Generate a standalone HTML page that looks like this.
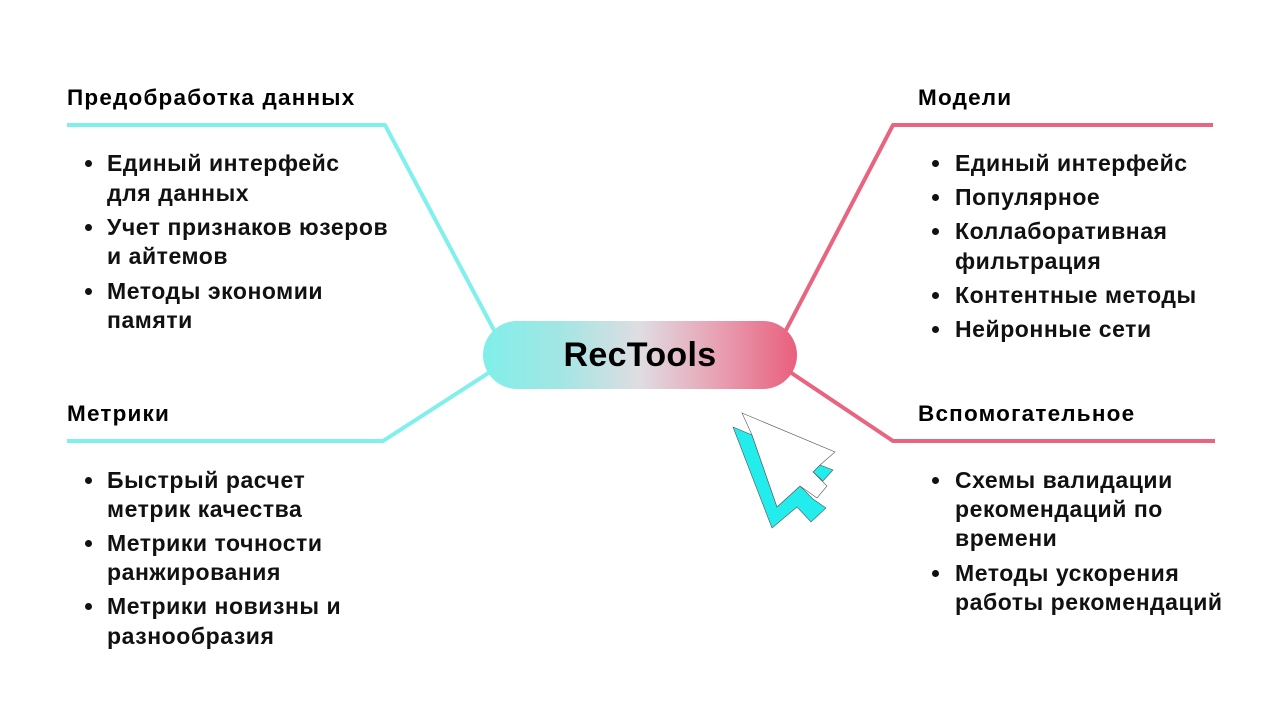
<!DOCTYPE html>
<html><head><meta charset="utf-8"><style>
body{margin:0;width:1280px;height:710px;background:#fff;position:relative;overflow:hidden;font-family:"Liberation Sans","DejaVu Sans",sans-serif;font-weight:bold;color:#111;}
.t{position:absolute;font-size:23px;letter-spacing:0.55px;line-height:30px;white-space:nowrap;}
.h{position:absolute;font-size:22.5px;letter-spacing:1.2px;line-height:30px;white-space:nowrap;color:#000;}
.b{position:absolute;width:7px;height:7px;border-radius:50%;background:#111;}
.pill{position:absolute;left:483px;top:321px;width:314px;height:68px;border-radius:34px;background:linear-gradient(90deg,#80efe9 0%,#a3e6e4 25%,#dfdde2 50%,#e8a0b2 75%,#e95f7d 100%);text-align:center;line-height:68px;font-size:34px;letter-spacing:0.3px;color:#000;}
</style></head><body>
<svg width="1280" height="710" style="position:absolute;left:0;top:0">
<g fill="none" stroke-width="4" stroke-linejoin="round">
<polyline points="67,125 385,125 495,332" stroke="#7ff0ec"/>
<polyline points="67,441 383,441 490,372" stroke="#7ff0ec"/>
<polyline points="1213,125 893,125 785,332" stroke="#e8647f"/>
<polyline points="1215,441 893,441 790,372" stroke="#e8647f"/>
</g>
<polygon points="733,427 752,435 777,507 800,486 813,499 826,508 811,522 797,507 772,528" fill="#22ecec" stroke="#555" stroke-width="0.6"/>
<polygon points="813,472 820,465 833,470 823,481" fill="#22ecec" stroke="#555" stroke-width="0.6"/>
<polygon points="742,413 835,452 820,465 813,472 827,486 817,498 800,486 777,507 752,435" fill="#fff" stroke="#555" stroke-width="0.6"/>
</svg>
<div class="pill">RecTools</div>

<div class="h" style="left:67px;top:83px">Предобработка данных</div>
<div class="b" style="left:85px;top:160px"></div><div class="t" style="left:107px;top:148px">Единый интерфейс</div>
<div class="t" style="left:107px;top:178px">для данных</div>
<div class="b" style="left:85px;top:224px"></div><div class="t" style="left:107px;top:212px">Учет признаков юзеров</div>
<div class="t" style="left:107px;top:241px">и айтемов</div>
<div class="b" style="left:85px;top:288px"></div><div class="t" style="left:107px;top:276px">Методы экономии</div>
<div class="t" style="left:107px;top:305px">памяти</div>

<div class="h" style="left:67px;top:399px">Метрики</div>
<div class="b" style="left:85px;top:477px"></div><div class="t" style="left:107px;top:465px">Быстрый расчет</div>
<div class="t" style="left:107px;top:494px">метрик качества</div>
<div class="b" style="left:85px;top:540px"></div><div class="t" style="left:107px;top:528px">Метрики точности</div>
<div class="t" style="left:107px;top:557px">ранжирования</div>
<div class="b" style="left:85px;top:603px"></div><div class="t" style="left:107px;top:591px">Метрики новизны и</div>
<div class="t" style="left:107px;top:621px">разнообразия</div>

<div class="h" style="left:918px;top:83px">Модели</div>
<div class="b" style="left:932px;top:160px"></div><div class="t" style="left:955px;top:148px">Единый интерфейс</div>
<div class="b" style="left:932px;top:194px"></div><div class="t" style="left:955px;top:182px">Популярное</div>
<div class="b" style="left:932px;top:228px"></div><div class="t" style="left:955px;top:216px">Коллаборативная</div>
<div class="t" style="left:955px;top:246px">фильтрация</div>
<div class="b" style="left:932px;top:292px"></div><div class="t" style="left:955px;top:280px">Контентные методы</div>
<div class="b" style="left:932px;top:326px"></div><div class="t" style="left:955px;top:314px">Нейронные сети</div>

<div class="h" style="left:918px;top:399px">Вспомогательное</div>
<div class="b" style="left:932px;top:477px"></div><div class="t" style="left:955px;top:465px">Схемы валидации</div>
<div class="t" style="left:955px;top:494px">рекомендаций по</div>
<div class="t" style="left:955px;top:523px">времени</div>
<div class="b" style="left:932px;top:570px"></div><div class="t" style="left:955px;top:558px">Методы ускорения</div>
<div class="t" style="left:955px;top:587px">работы рекомендаций</div>
</body></html>
